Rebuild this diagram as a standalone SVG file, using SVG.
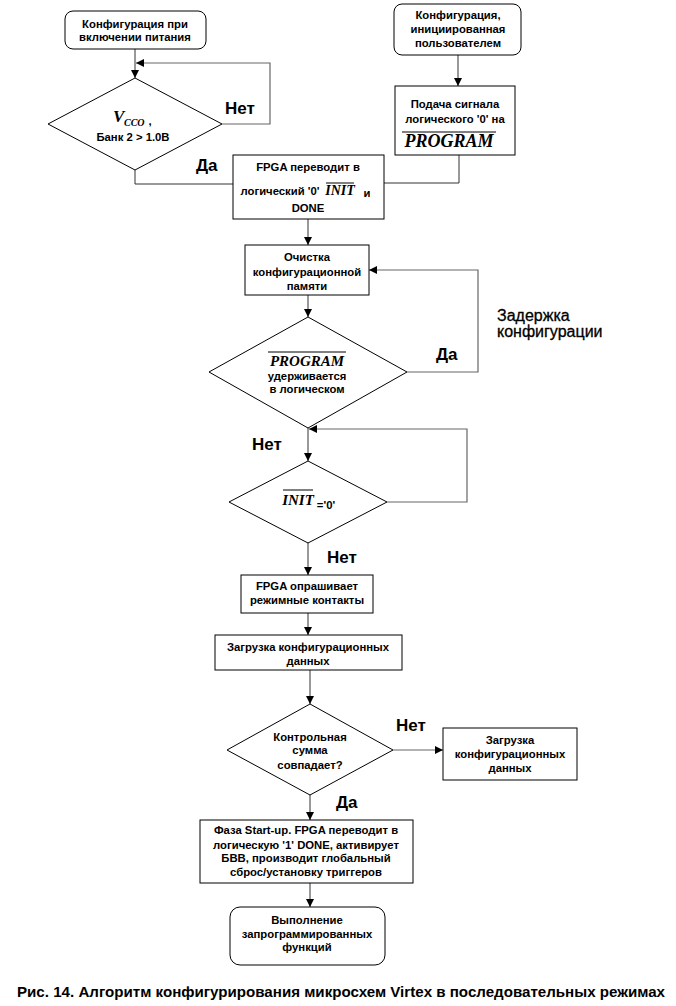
<svg xmlns="http://www.w3.org/2000/svg" width="676" height="1006" viewBox="0 0 676 1006">
<style>
.box{fill:#fff;stroke:#000;stroke-width:1}
.t{font-family:"Liberation Sans",Arial,sans-serif;font-size:11.3px;font-weight:bold;fill:#000;text-anchor:middle}
.lbl{font-family:"Liberation Sans",Arial,sans-serif;font-size:17px;font-weight:bold;fill:#000}
.lbl2{font-family:"Liberation Sans",Arial,sans-serif;font-size:16px;fill:#000;stroke:#000;stroke-width:0.3}
.it{font-family:"Liberation Serif","Times New Roman",serif;font-style:italic;font-weight:bold;fill:#000}
.ov{stroke:#000;stroke-width:1}
.c{fill:none;stroke:#333;stroke-width:1}
.cg{fill:none;stroke:#666;stroke-width:1.2}
.cap{font-family:"Liberation Sans",Arial,sans-serif;font-size:15px;font-weight:bold;fill:#000}
</style>
<defs>
<marker id="ah" viewBox="0 0 10 10" refX="10" refY="5" markerWidth="8" markerHeight="8" markerUnits="userSpaceOnUse" orient="auto">
<path d="M0,0 L10,5 L0,10 z" fill="#000"/>
</marker>
</defs>
<rect width="676" height="1006" fill="#fff"/>

<g id="connectors">
<path class="c" d="M135,49 V78" marker-end="url(#ah)"/>
<path class="cg" d="M222,124 H270 V63 H136" marker-end="url(#ah)"/>
<path class="c" d="M135,170 V184 H233"/>
<path class="c" d="M458,55 V86" marker-end="url(#ah)"/>
<path class="c" d="M459,155 V183 H384"/>
<path class="c" d="M308,219 V245" marker-end="url(#ah)"/>
<path class="c" d="M308,295 V317" marker-end="url(#ah)"/>
<path class="cg" d="M407,372 H478 V270 H369" marker-end="url(#ah)"/>
<path class="c" d="M308,428 V461" marker-end="url(#ah)"/>
<path class="cg" d="M387,502 H467 V429 H309" marker-end="url(#ah)"/>
<path class="c" d="M308,543 V575" marker-end="url(#ah)"/>
<path class="c" d="M308,613 V635" marker-end="url(#ah)"/>
<path class="c" d="M310,670 V704" marker-end="url(#ah)"/>
<path class="cg" d="M393,750 H443" marker-end="url(#ah)"/>
<path class="c" d="M310,795 V820" marker-end="url(#ah)"/>
<path class="c" d="M310,883 V907" marker-end="url(#ah)"/>
</g>

<g id="labels">
<text class="lbl" x="225" y="114">Нет</text>
<text class="lbl" x="196" y="171">Да</text>
<text class="lbl2" x="497" y="321">Задержка</text>
<text class="lbl2" x="497" y="337">конфигурации</text>
<text class="lbl" x="436" y="360">Да</text>
<text class="lbl" x="252" y="450">Нет</text>
<text class="lbl" x="327" y="563">Нет</text>
<text class="lbl" x="396" y="731">Нет</text>
<text class="lbl" x="336" y="808">Да</text>
</g>

<g id="start-power">
<rect class="box" x="65" y="11" width="141" height="38" rx="8"/>
<text class="t" x="135" y="28">Конфигурация при</text>
<text class="t" x="135" y="41">включении питания</text>
</g>

<g id="vcco-check">
<polygon class="box" points="135,78 222,124 135,170 48,124"/>
<text class="it" x="113" y="122" font-size="17" font-weight="normal">V</text>
<text class="it" x="124" y="126" font-size="10" font-weight="normal">CCO</text>
<text class="t" x="150" y="125">,</text>
<text class="t" x="133" y="141">Банк 2 &gt; 1.0В</text>
</g>

<g id="start-user">
<rect class="box" x="394" y="4" width="127" height="51" rx="8"/>
<text class="t" x="458" y="19">Конфигурация,</text>
<text class="t" x="458" y="33">инициированная</text>
<text class="t" x="458" y="47">пользователем</text>
</g>

<g id="program-low">
<rect class="box" x="395" y="86" width="120" height="69"/>
<text class="t" x="455" y="108">Подача сигнала</text>
<text class="t" x="455" y="123">логического '0' на</text>
<line class="ov" x1="402" y1="132" x2="496" y2="132"/>
<text class="it" x="449" y="147" font-size="18" text-anchor="middle">PROGRAM</text>
</g>

<g id="fpga-init">
<rect class="box" x="233" y="155" width="151" height="64"/>
<text class="t" x="308" y="171">FPGA переводит в</text>
<text class="t" x="280" y="195">логический '0'</text>
<line class="ov" x1="326" y1="183" x2="354" y2="183"/>
<text class="it" x="340" y="195" font-size="14" text-anchor="middle">INIT</text>
<text class="t" x="367" y="197">и</text>
<text class="t" x="308" y="212">DONE</text>
</g>

<g id="clear-mem">
<rect class="box" x="245" y="245" width="124" height="50"/>
<text class="t" x="307" y="261">Очистка</text>
<text class="t" x="307" y="276">конфигурационной</text>
<text class="t" x="307" y="290">памяти</text>
</g>

<g id="program-hold">
<polygon class="box" points="308,317 407,372 308,428 209,372"/>
<line class="ov" x1="268" y1="352" x2="346" y2="352"/>
<text class="it" x="307" y="366" font-size="15" text-anchor="middle">PROGRAM</text>
<text class="t" x="307" y="380">удерживается</text>
<text class="t" x="307" y="393">в логическом</text>
</g>

<g id="init-check">
<polygon class="box" points="308,461 387,502 308,543 229,502"/>
<line class="ov" x1="283" y1="490" x2="313" y2="490"/>
<text class="it" x="298" y="505" font-size="15" text-anchor="middle">INIT</text>
<text class="t" x="326" y="509">='0'</text>
</g>

<g id="fpga-poll">
<rect class="box" x="241" y="575" width="132" height="38"/>
<text class="t" x="307" y="590">FPGA опрашивает</text>
<text class="t" x="307" y="604">режимные контакты</text>
</g>

<g id="load-data">
<rect class="box" x="215" y="635" width="187" height="35"/>
<text class="t" x="308" y="651">Загрузка конфигурационных</text>
<text class="t" x="308" y="665">данных</text>
</g>

<g id="checksum">
<polygon class="box" points="310,704 393,750 310,795 227,750"/>
<text class="t" x="310" y="741">Контрольная</text>
<text class="t" x="310" y="754">сумма</text>
<text class="t" x="310" y="769">совпадает?</text>
</g>

<g id="load-data-2">
<rect class="box" x="443" y="728" width="134" height="52"/>
<text class="t" x="510" y="744">Загрузка</text>
<text class="t" x="510" y="758">конфигурационных</text>
<text class="t" x="510" y="772">данных</text>
</g>

<g id="startup">
<rect class="box" x="200" y="820" width="213" height="63"/>
<text class="t" x="306" y="834">Фаза Start-up. FPGA переводит в</text>
<text class="t" x="306" y="849">логическую '1' DONE, активирует</text>
<text class="t" x="306" y="862">БВВ, производит глобальный</text>
<text class="t" x="306" y="876">сброс/установку триггеров</text>
</g>

<g id="run">
<rect class="box" x="230" y="907" width="155" height="58" rx="10"/>
<text class="t" x="307" y="924">Выполнение</text>
<text class="t" x="307" y="938">запрограммированных</text>
<text class="t" x="307" y="951">функций</text>
</g>

<text class="cap" x="17" y="997" textLength="648" lengthAdjust="spacingAndGlyphs">Рис. 14. Алгоритм конфигурирования микросхем Virtex в последовательных режимах</text>
</svg>
